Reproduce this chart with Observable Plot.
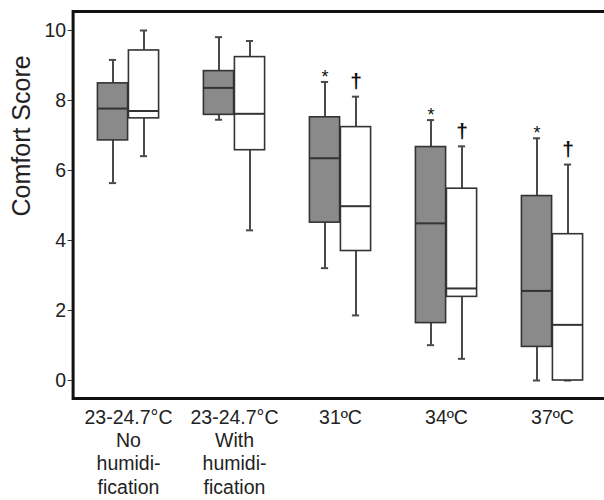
<!DOCTYPE html>
<html>
<head>
<meta charset="utf-8">
<script src="https://cdn.jsdelivr.net/npm/d3@7"></script>
<script src="https://cdn.jsdelivr.net/npm/@observablehq/plot@0.6"></script>
<style>
  html, body { margin: 0; padding: 0; background: #fff; }
  #chart { width: 604px; height: 500px; overflow: hidden; }
</style>
</head>
<body>
<div id="chart"></div>
<script>
// ---- data ----
const categories = [
  "23-24.7°C\nNo\nhumidi-\nfication",
  "23-24.7°C\nWith\nhumidi-\nfication",
  "31ºC",
  "34ºC",
  "37ºC"
];
const grayLow    = [5.64, 7.45, 3.21, 1.01, 0.00];
const grayQ1     = [6.86, 7.59, 4.51, 1.64, 0.96];
const grayMedian = [7.77, 8.36, 6.35, 4.49, 2.56];
const grayQ3     = [8.49, 8.84, 7.52, 6.67, 5.27];
const grayHigh   = [9.16, 9.81, 8.53, 7.44, 6.92];

const whiteLow    = [6.41, 4.29, 1.86, 0.62, 0.00];
const whiteQ1     = [7.49, 6.58, 3.70, 2.39, 0.00];
const whiteMedian = [7.70, 7.62, 4.98, 2.63, 1.59];
const whiteQ3     = [9.43, 9.24, 7.24, 5.48, 4.18];
const whiteHigh   = [10.0, 9.70, 8.11, 6.69, 6.17];

const grayMarks  = ["", "", "*", "*", "*"];
const whiteMarks = ["", "", "†", "†", "†"];
const yTicks = [0, 2, 4, 6, 8, 10];

// ---- layout / style ----
const W = 604, H = 500;
const ML = 72.6, MR = -2.7, MT = 11, MB = 102;
const band = (W - ML - MR) / categories.length;
const boxW = 31, capW = 8;
const half = band / 2;
const FONT = "'Liberation Sans', Arial, Helvetica, sans-serif";

const rows = (low, q1, med, q3, high, marks) => categories.map((c, i) => ({
  cat: c, low: low[i], q1: q1[i], med: med[i], q3: q3[i], high: high[i], mark: marks[i]
}));
const gray = rows(grayLow, grayQ1, grayMedian, grayQ3, grayHigh, grayMarks);
const white = rows(whiteLow, whiteQ1, whiteMedian, whiteQ3, whiteHigh, whiteMarks);

// insets for left (gray) and right (white) box inside a category band
const boxInsetL = {insetLeft: half - boxW, insetRight: half};
const boxInsetR = {insetLeft: half, insetRight: half - boxW};
const capInsetL = {insetLeft: half - boxW / 2 - capW / 2, insetRight: half + boxW / 2 - capW / 2};
const capInsetR = {insetLeft: half + boxW / 2 - capW / 2, insetRight: half - boxW / 2 - capW / 2};

const whiskerStroke = "#4a4a4a", boxStroke = "#333", grayFill = "#8a8a8a";

function boxMarks(data, side) {
  const off = side === "L" ? -boxW / 2 : boxW / 2;
  const bi = side === "L" ? boxInsetL : boxInsetR;
  const ci = side === "L" ? capInsetL : capInsetR;
  const fill = side === "L" ? grayFill : "#ffffff";
  return [
    Plot.ruleX(data, {x: "cat", y1: "low", y2: "high", dx: off, stroke: whiskerStroke, strokeWidth: 2}),
    Plot.tickY(data, {x: "cat", y: "low", ...ci, stroke: whiskerStroke, strokeWidth: 2}),
    Plot.tickY(data, {x: "cat", y: "high", ...ci, stroke: whiskerStroke, strokeWidth: 2}),
    Plot.barY(data, {x: "cat", y1: "q1", y2: "q3", ...bi, fill, stroke: boxStroke, strokeWidth: 1.6}),
    Plot.tickY(data, {x: "cat", y: "med", ...bi, stroke: boxStroke, strokeWidth: 2})
  ];
}

const chart = Plot.plot({
  width: W,
  height: H,
  marginLeft: ML,
  marginRight: MR,
  marginTop: MT,
  marginBottom: MB,
  style: {fontFamily: FONT, background: "#fff", color: "#222", overflow: "hidden"},
  x: {domain: categories, paddingInner: 0, paddingOuter: 0},
  y: {domain: [-0.514, 10.543]},
  marks: [
    ...boxMarks(gray, "L"),
    ...boxMarks(white, "R"),
    Plot.text(gray.filter(d => d.mark), {x: "cat", y: "high", text: "mark", dx: -boxW / 2, dy: -5, fontSize: 18, fill: "#111"}),
    Plot.text(white.filter(d => d.mark), {x: "cat", y: "high", text: "mark", dx: boxW / 2, dy: -15, fontSize: 21, fontWeight: "bold", fill: "#111"}),
    Plot.frame({stroke: "#111", strokeWidth: 3}),
    Plot.axisY({ticks: yTicks, tickSize: 5, tickPadding: 2, fontSize: 19.5, label: null, stroke: "#333", fill: "#222"}),
    Plot.axisX({tickSize: 0, tickPadding: 8.5, fontSize: 19.5, lineHeight: 1.2, label: null, fill: "#222"}),
    Plot.text(["Comfort Score"], {frameAnchor: "left", rotate: -90, dx: -51, dy: 11.5, fontSize: 25, fill: "#222"})
  ]
});
document.getElementById("chart").appendChild(chart);
</script>
</body>
</html>
